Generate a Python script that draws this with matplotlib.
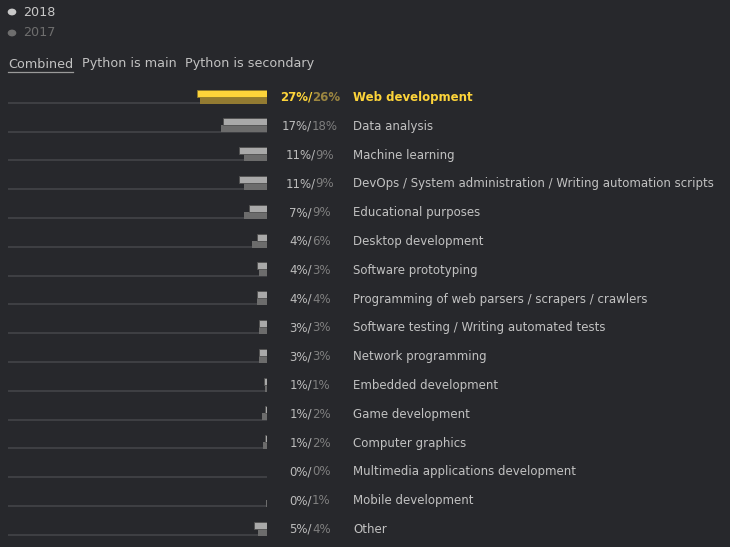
import matplotlib
matplotlib.use("Agg")
import matplotlib.pyplot as plt

# survey data: share of respondents, 2018 vs 2017
categories = [
    "Web development",
    "Data analysis",
    "Machine learning",
    "DevOps / System administration / Writing automation scripts",
    "Educational purposes",
    "Desktop development",
    "Software prototyping",
    "Programming of web parsers / scrapers / crawlers",
    "Software testing / Writing automated tests",
    "Network programming",
    "Embedded development",
    "Game development",
    "Computer graphics",
    "Multimedia applications development",
    "Mobile development",
    "Other",
]
values_2018 = [26.9, 17.0, 10.8, 10.8, 7.0, 3.9, 4.0, 4.0, 3.0, 3.0, 1.0, 0.9, 0.9, 0.0, 0.0, 5.2]
values_2017 = [25.9, 17.8, 8.9, 8.9, 8.9, 5.8, 3.1, 3.9, 3.0, 3.0, 0.6, 1.8, 1.7, 0.0, 0.5, 3.6]
labels_2018 = ["27%", "17%", "11%", "11%", "7%", "4%", "4%", "4%", "3%", "3%", "1%", "1%", "1%", "0%", "0%", "5%"]
labels_2017 = ["26%", "18%", "9%", "9%", "9%", "6%", "3%", "4%", "3%", "3%", "1%", "2%", "2%", "0%", "1%", "4%"]
tabs = ["Combined", "Python is main", "Python is secondary"]

BG = "#27282c"
YELLOW = "#fdd43a"
YELLOW_DARK = "#937b32"
GREY_18 = "#a9a9a9"
GREY_17 = "#6c6c6c"
W, H = 730, 547

fig = plt.figure(figsize=(7.3, 5.47), dpi=100, facecolor=BG)

def px(x, y):
    return x / W, 1 - y / H

# bars: right-anchored at pixel 267, 100% spans 259 px
ax = fig.add_axes([8 / W, 0, 259 / W, 1])
ax.set_xlim(100, 0)
ax.set_ylim(H, 0)
ax.axis("off")

row0, step = 97.5, 28.8
centers = [row0 + step * i for i in range(len(categories))]

for i, c in enumerate(centers):
    hi = i == 0
    ax.plot([0, 100], [c + 5.3, c + 5.3], color="#434448", lw=1.2, solid_capstyle="butt", zorder=1)
    if values_2017[i] > 0:
        ax.barh(c + 2.5, values_2017[i], height=7, left=0,
                color=YELLOW_DARK if hi else GREY_17, lw=0, zorder=2)
    if values_2018[i] > 0:
        ax.barh(c - 4.5, values_2018[i], height=7, left=0,
                color=YELLOW if hi else GREY_18,
                edgecolor="#8f7a2a" if hi else "#4f4f4f", lw=0.6, zorder=3)

renderer = fig.canvas.get_renderer()
fs = 8.5

# percent labels, centered around x=310, two-tone
for i, c in enumerate(centers):
    hi = i == 0
    weight = "bold" if hi else "normal"
    first = labels_2018[i] + "/"
    full = first + labels_2017[i]
    x, y = px(310, c)
    probe = fig.text(x, y, full, fontsize=fs, weight=weight, ha="center", va="center", alpha=0)
    bb = probe.get_window_extent(renderer)
    probe.remove()
    fig.text(bb.x0 / W, y, first, fontsize=fs, weight=weight, ha="left", va="center",
             color=YELLOW if hi else "#bcbcbc")
    fig.text(bb.x1 / W, y, labels_2017[i], fontsize=fs, weight=weight, ha="right", va="center",
             color="#9b8540" if hi else "#7f7f7f")
    fig.text(*px(353, c), categories[i], fontsize=fs, weight=weight, ha="left", va="center",
             color=YELLOW if hi else "#c2c2c2")

# legend
fig.patches.append(plt.Circle(px(12, 12), 3.6 / W, transform=fig.transFigure,
                              color="#c8c8c8", figure=fig))
fig.text(*px(23, 12), "2018", fontsize=9.2, color="#c8c8c8", ha="left", va="center")
fig.patches.append(plt.Circle(px(12, 33), 3.6 / W, transform=fig.transFigure,
                              color="#6e6e6e", figure=fig))
fig.text(*px(23, 33), "2017", fontsize=9.2, color="#6e6e6e", ha="left", va="center")

# tabs
tab_x = [8, 82, 185]
for name, tx in zip(tabs, tab_x):
    t = fig.text(*px(tx, 64), name, fontsize=9.2, color="#c2c2c2", ha="left", va="center")
    if name == "Combined":
        bb = t.get_window_extent(renderer)
        fig.add_artist(plt.Line2D([bb.x0 / W, bb.x1 / W], [1 - 71.5 / H] * 2,
                                  color="#9a9a9a", lw=0.9, transform=fig.transFigure))

fig.savefig("out.png", dpi=100, facecolor=BG)
